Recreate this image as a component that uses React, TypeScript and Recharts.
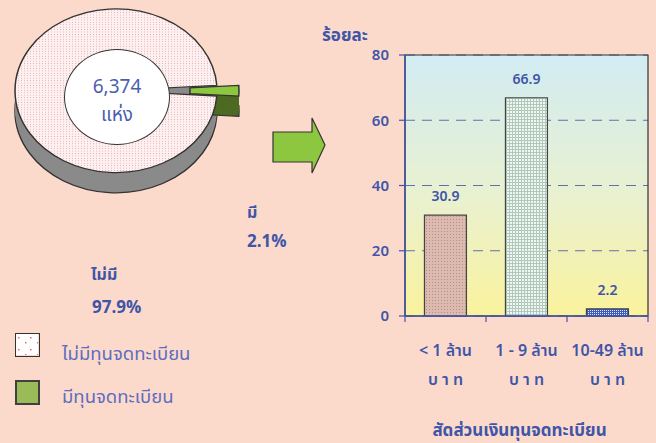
import React from 'react';
import {
  PieChart, Pie, Cell, BarChart, Bar, XAxis, YAxis, CartesianGrid,
  LabelList, ReferenceArea, Label,
} from 'recharts';

// ---------- data ----------
const pieNames = ['ไม่มีทุนจดทะเบียน', 'มีทุนจดทะเบียน'];
const pieValues = [97.9, 2.1];
const pieShortLabels = ['ไม่มี', 'มี'];
const pieTotal = '6,374';
const pieTotalUnit = 'แห่ง';

const barCategories = ['< 1 ล้าน', '1 - 9 ล้าน', '10-49 ล้าน'];
const barUnit = 'บ า ท';
const barValues = [30.9, 66.9, 2.2];
const yTicks = [0, 20, 40, 60, 80];
const yTitle = 'ร้อยละ';
const xTitle = 'สัดส่วนเงินทุนจดทะเบียน';

const pieData = pieNames.map((name, i) => ({ name, value: pieValues[i] }));
const barData = barCategories.map((name, i) => ({ name, value: barValues[i] }));

const FONT = "Tahoma, 'Noto Sans Thai', 'Noto Sans', sans-serif";
const BLUE = '#3F55A8';
const LBLUE = '#5F6DC0';

// pie geometry (circle space, later squashed vertically)
const SQUASH = 0.81;
const PCX = 116;
const PCY = 112;
const R = 101;
const EXPLODE = 22;
const layerOffsets = [25, 22, 19, 16, 13, 10, 7, 4, 1];
const START = 3.8;

const bigFills = ['url(#pinkDots)', 'none'];
const greenFills = ['none', '#8DC63F'];

const XTick = (props: any) => {
  const { x, y, payload } = props;
  const half = payload && payload.offset ? payload.offset : 40.5;
  const label = String(payload.value);
  return (
    <g>
      <line x1={x + half} y1={y} x2={x + half} y2={y + 6} stroke={BLUE} strokeWidth={1.2} />
      {props.index === 0 && (
        <line x1={x - half} y1={y} x2={x - half} y2={y + 6} stroke={BLUE} strokeWidth={1.2} />
      )}
      <text x={x} y={y + 40} textAnchor="middle" fill={BLUE} fontSize={16} fontWeight={600} fontFamily={FONT}>
        {label}
      </text>
      <text x={x} y={y + 69} textAnchor="middle" fill={BLUE} fontSize={16} fontWeight={600} fontFamily={FONT}>
        {barUnit}
      </text>
    </g>
  );
};

export default function App() {
  return (
    <div
      style={{
        position: 'absolute', left: 0, top: 0, width: 656, height: 443,
        background: '#FCDACB', overflow: 'hidden', fontFamily: FONT,
      }}
    >
      <svg width="0" height="0" style={{ position: 'absolute' }}>
        <defs>
          <pattern id="pinkDots" width="3" height="3" patternUnits="userSpaceOnUse">
            <rect width="3" height="3" fill="#FDF0F0" />
            <rect width="1" height="1" fill="#EBA9AC" />
          </pattern>
          <pattern id="bar1" width="3" height="3" patternUnits="userSpaceOnUse">
            <rect width="3" height="3" fill="#DDBAB0" />
            <rect width="1" height="1" fill="#B98E84" />
          </pattern>
          <pattern id="bar2" width="3" height="3" patternUnits="userSpaceOnUse">
            <rect width="3" height="3" fill="#AFC9BC" />
            <rect width="2" height="2" fill="#F1F5EF" />
          </pattern>
          <pattern id="bar3" width="2" height="2" patternUnits="userSpaceOnUse">
            <rect width="2" height="2" fill="#3D5DBE" />
            <rect width="1" height="1" fill="#DDE5F5" />
          </pattern>
          <pattern id="legendMarks" width="12" height="12" patternUnits="userSpaceOnUse">
            <rect width="12" height="12" fill="#FFFFFF" />
            <rect x="2" y="3" width="1.5" height="1.5" fill="#E07070" />
            <rect x="9" y="8" width="1.5" height="1.5" fill="#E07070" />
          </pattern>
          <linearGradient id="plotBg" x1="0" y1="0" x2="0" y2="1">
            <stop offset="0" stopColor="#D2ECF3" />
            <stop offset="0.55" stopColor="#E9F1CF" />
            <stop offset="1" stopColor="#FAF29C" />
          </linearGradient>
        </defs>
      </svg>

      {/* Bar chart */}
      <div style={{ position: 'absolute', left: 0, top: 0 }}>
        <BarChart
          width={656}
          height={443}
          data={barData}
          margin={{ top: 55, right: 8, bottom: 0, left: 355 }}
          barCategoryGap="24%"
        >
          <CartesianGrid vertical={false} stroke="#6170A8" strokeDasharray="10 7" strokeWidth={1.2} fill="url(#plotBg)" fillOpacity={1} />
          <ReferenceArea y1={0} y2={80} fill="none" stroke="#333" strokeWidth={1.2} ifOverflow="visible" />
          <YAxis
            domain={[0, 80]}
            ticks={yTicks}
            width={50}
            axisLine={{ stroke: BLUE, strokeWidth: 1.5 }}
            tickLine={{ stroke: BLUE, strokeWidth: 1.2 }}
            tickSize={6}
            tickMargin={10}
            tick={{ fill: BLUE, fontSize: 15, fontWeight: 600, fontFamily: FONT }}
          />
          <XAxis
            dataKey="name"
            height={127}
            interval={0}
            tickSize={0}
            tickMargin={0}
            tickLine={false}
            axisLine={{ stroke: BLUE, strokeWidth: 1.5 }}
            tick={<XTick />}
          >
            <Label
              value={xTitle}
              position="insideBottom"
              offset={7}
              dx={-7}
              fill={BLUE}
              fontSize={17}
              fontWeight={700}
              fontFamily={FONT}
            />
          </XAxis>
          <Bar dataKey="value" isAnimationActive={false} stroke="#444" strokeWidth={1.2}>
            {barData.map((d, i) => (
              <Cell key={d.name} fill={`url(#bar${i + 1})`} />
            ))}
            <LabelList dataKey="value" position="top" offset={14} fill={BLUE} fontSize={14} fontWeight={600} fontFamily={FONT} />
          </Bar>
        </BarChart>
      </div>

      <div style={{ position: 'absolute', left: 322, top: 25, color: BLUE, fontSize: 17, fontWeight: 700, lineHeight: '22px' }}>
        {yTitle}
      </div>

      {/* Pie (3D look: stacked layers, squashed vertically) */}
      <div
        style={{
          position: 'absolute', left: 0, top: 0, width: 270, height: 260,
          transform: `scaleY(${SQUASH})`, transformOrigin: '0 0',
        }}
      >
        <PieChart width={270} height={260} margin={{ top: 0, right: 0, bottom: 0, left: 0 }}>
          {layerOffsets.map((off, li) => (
            <Pie
              key={`big-${off}`}
              data={pieData}
              dataKey="value"
              cx={PCX}
              cy={PCY + off}
              outerRadius={R}
              startAngle={START}
              endAngle={START + 360}
              isAnimationActive={false}
            >
              {pieData.map((d, i) => (
                <Cell
                  key={d.name}
                  fill={i === 0 ? '#8A8A8A' : 'none'}
                  stroke={i === 0 && li === 0 ? '#333' : 'none'}
                  strokeWidth={1.5}
                />
              ))}
            </Pie>
          ))}
          {layerOffsets.map((off, li) => (
            <Pie
              key={`green-${off}`}
              data={pieData}
              dataKey="value"
              cx={PCX + EXPLODE}
              cy={PCY + off}
              outerRadius={R}
              innerRadius={52}
              startAngle={START}
              endAngle={START + 360}
              isAnimationActive={false}
            >
              {pieData.map((d, i) => (
                <Cell
                  key={d.name}
                  fill={i === 1 ? '#4D6A22' : 'none'}
                  stroke={i === 1 && li === 0 ? '#333' : 'none'}
                  strokeWidth={1.5}
                />
              ))}
            </Pie>
          ))}
          <Pie
            data={pieData}
            dataKey="value"
            cx={PCX}
            cy={PCY}
            outerRadius={R}
            startAngle={START}
            endAngle={START + 360}
            isAnimationActive={false}
          >
            {pieData.map((d, i) => (
              <Cell key={d.name} fill={bigFills[i]} stroke={i === 0 ? '#333' : 'none'} strokeWidth={1.5} />
            ))}
          </Pie>
          <Pie
            data={pieData}
            dataKey="value"
            cx={PCX + EXPLODE}
            cy={PCY}
            outerRadius={R}
            innerRadius={52}
            startAngle={START}
            endAngle={START + 360}
            isAnimationActive={false}
          >
            {pieData.map((d, i) => (
              <Cell key={d.name} fill={greenFills[i]} stroke={i === 1 ? '#333' : 'none'} strokeWidth={1.5} />
            ))}
          </Pie>
        </PieChart>
      </div>

      {/* pie hole with total */}
      <div
        style={{
          position: 'absolute', left: 64, top: 49, width: 106, height: 96,
          borderRadius: '50%', background: '#FFFFFF', border: '1px solid #333',
          boxSizing: 'border-box', display: 'flex', flexDirection: 'column',
          alignItems: 'center', justifyContent: 'center', color: '#4A5FB0', fontSize: 19,
          paddingTop: 10,
        }}
      >
        <div style={{ lineHeight: '28px' }}>{pieTotal}</div>
        <div style={{ lineHeight: '28px' }}>{pieTotalUnit}</div>
      </div>

      {/* arrow */}
      <svg style={{ position: 'absolute', left: 0, top: 0 }} width={656} height={443} pointerEvents="none">
        <polygon
          points="273,132 312,132 312,118 325,145 312,173 312,162 273,162"
          fill="#8DC63F"
          stroke="#333"
          strokeWidth={1.2}
        />
      </svg>

      {/* slice labels */}
      <div style={{ position: 'absolute', left: 247, top: 203, color: BLUE, fontSize: 16, fontWeight: 700, lineHeight: '20px' }}>
        {pieShortLabels[1]}
      </div>
      <div style={{ position: 'absolute', left: 247, top: 232, color: BLUE, fontSize: 17, fontWeight: 700, lineHeight: '20px' }}>
        {`${pieValues[1]}%`}
      </div>
      <div style={{ position: 'absolute', left: 91, top: 265, color: BLUE, fontSize: 16, fontWeight: 700, lineHeight: '20px' }}>
        {pieShortLabels[0]}
      </div>
      <div style={{ position: 'absolute', left: 92, top: 298, color: BLUE, fontSize: 17, fontWeight: 700, lineHeight: '20px' }}>
        {`${pieValues[0]}%`}
      </div>

      {/* legend */}
      <div style={{ position: 'absolute', left: 15, top: 333, width: 25, height: 24, border: '1.5px solid #333', boxSizing: 'border-box' }}>
        <svg width={22} height={21}><rect width={22} height={21} fill="url(#legendMarks)" /></svg>
      </div>
      <div style={{ position: 'absolute', left: 62, top: 342, color: LBLUE, fontSize: 18.5, lineHeight: '24px' }}>
        {pieNames[0]}
      </div>
      <div style={{ position: 'absolute', left: 15, top: 380, width: 25, height: 25, border: '2px solid #404040', background: '#9BBB59', boxSizing: 'border-box' }} />
      <div style={{ position: 'absolute', left: 62, top: 385, color: LBLUE, fontSize: 18.5, lineHeight: '24px' }}>
        {pieNames[1]}
      </div>
    </div>
  );
}
